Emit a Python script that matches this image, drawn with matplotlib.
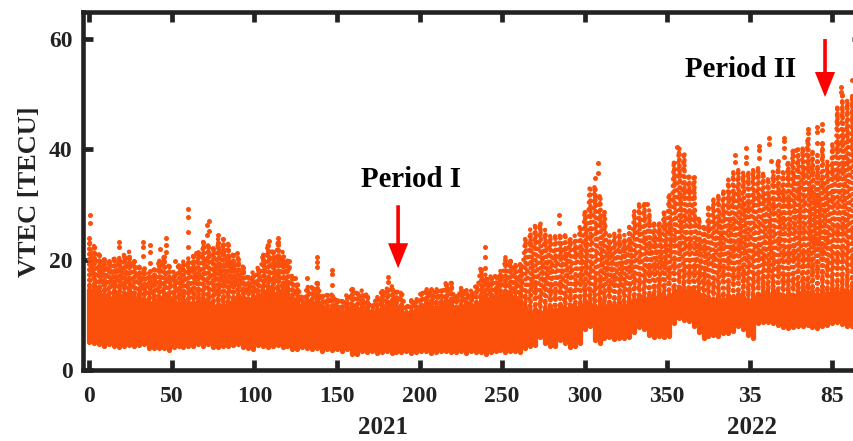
import matplotlib
matplotlib.use("Agg")
import matplotlib.pyplot as plt

plt.rcParams['font.family'] = ['Liberation Serif', 'DejaVu Serif']
plt.rcParams['font.weight'] = 'bold'

# Data arrays, one column every 3 days
days = list(range(0, 468, 3))
vtec_high = [24, 23, 21.5, 20.5, 20, 20.8, 20.5, 21, 21.5, 20, 19.3, 18.5, 17.8, 18.3, 20, 20.8,
             19, 18, 19.5, 20, 20.5, 21.3, 21.5, 23.5, 23, 22.5, 24, 23.8, 23, 21.5, 20.5, 19,
             17.5, 18, 18.7, 21, 23, 22, 23, 21.5, 20, 17.5, 16, 13.5, 15.4, 15.5, 16.3, 14,
             13.8, 14, 13.3, 12.7, 14, 15, 14.5, 14.5, 14, 12.3, 13.5, 14.5, 15, 15.5, 14.8, 14.5,
             12, 12.7, 13, 14.5, 15, 15, 15, 15, 16, 16, 13.6, 15, 15, 14.5, 15.5, 18.7,
             17.5, 17, 17.6, 18, 20.5, 20, 19.4, 19.4, 24, 25.5, 26.6, 26.6, 25.5, 24.5, 24.8, 24.8,
             25, 24, 24.5, 26, 29, 33, 33.5, 32, 29, 25, 25, 25.4, 24.5, 26, 29, 30.5,
             30.5, 29, 27, 27, 29, 32, 38, 40.4, 39.5, 35.6, 35, 28, 26.5, 30, 31, 32,
             32.8, 34.7, 36, 36.6, 36, 36, 36.5, 37, 36, 35, 36, 38, 36, 38, 40, 40,
             40.4, 42, 40, 39, 41, 38, 41, 48, 49.8, 49, 50, 49]
vtec_low = [5.2, 5, 4.8, 4.5, 4.8, 4.4, 4.2, 4.4, 4.6, 4.5, 4.6, 4.7, 4.1, 4, 4.1, 4,
            3.7, 4.3, 4.5, 4.2, 4.4, 4.5, 4.7, 4.5, 4.8, 4.2, 4.3, 4.5, 4.4, 4.6, 4.8, 4.3,
            4, 3.9, 4.6, 4.5, 4.3, 4.5, 4.6, 4.2, 4.4, 3.8, 3.9, 4.2, 4, 3.8, 4, 3.6,
            3.9, 3.7, 3.8, 3.5, 3.9, 2.9, 3, 3.6, 3.3, 3.6, 3.2, 3.4, 3.5, 3.1, 3.4, 3.3,
            3.5, 3.2, 3.4, 3.6, 3.5, 3.2, 3.4, 3.6, 3.5, 3.3, 3.4, 3.5, 3.1, 3.6, 3.4, 3.3,
            3, 3.4, 3.5, 3.7, 3.3, 3.6, 3.5, 3.4, 4, 4.5, 4.6, 6, 5, 4.5, 4.5, 5.5,
            5, 4.2, 4.5, 5, 7.5, 8, 5.5, 5, 5.8, 6, 5.6, 5.9, 5.8, 6, 7, 7.8,
            7.5, 6.5, 6, 6.2, 6, 6.3, 8.5, 9.4, 9.2, 9, 8, 7, 5.8, 6.3, 6.5, 6.3,
            6.8, 6.7, 7.2, 8, 7.5, 6.5, 5.9, 8.5, 8.8, 8.7, 8.5, 8.2, 7.8, 7.6, 7.8, 8,
            8, 8.2, 7.8, 7.6, 8, 8.3, 8.5, 8.7, 8.4, 8.1, 8, 8.2]
# top of the part that reads as solid colour
vtec_core = [14.6, 15.2, 14.3, 13.9, 13.1, 14.4, 13.7, 14.1, 14.5, 13.2, 13.3, 12.8, 12.4, 12.9, 13.2, 13.6,
             13.3, 12.7, 12.1, 12.8, 12.4, 12.2, 12.6, 12.9, 12.3, 11.7, 12.1, 11.8, 12.4, 12.9, 13.6, 13.2,
             12.9, 13.4, 13.8, 14.3, 14.7, 14.1, 14.5, 14.9, 14.4, 13.1, 12.7, 11.3, 12.8, 12.4, 13, 11.6,
             11.2, 11.7, 11.1, 10.7, 11.4, 11.9, 11.3, 12, 11.5, 10.4, 11.2, 11.9, 12.4, 12.1, 11.6, 11.9,
             10.2, 10.7, 10.9, 11.8, 12.3, 12, 11.5, 12.2, 12.7, 12.3, 11.4, 11.9, 12.4, 11.8, 12.1, 13.6,
             13.1, 13.7, 13.2, 13.8, 14.3, 13.9, 13.2, 12.7, 11.3, 10.8, 11.2, 10.6, 11.1, 11.7, 11.2, 11.8,
             11.3, 11.9, 11.4, 12, 12.6, 12.1, 11.5, 12.2, 11.7, 12.3, 11.8, 12.4, 11.9, 12.5, 13, 13.6,
             13.1, 13.7, 13.2, 13.8, 13.3, 13.9, 14.5, 15.1, 14.6, 14.9, 14.3, 13.6, 12.8, 13.3, 12.9, 13.5,
             13, 13.6, 13.2, 13.9, 13.3, 12.7, 13.2, 13.8, 14.3, 13.9, 14.4, 14, 13.6, 14.1, 13.7, 14.2,
             14.5, 14, 14.4, 13.9, 14.6, 14.1, 14.7, 14.2, 14.8, 14.3, 14.9, 14.4]

# Single dots standing clear of the main cloud
spike_days = [0.5, 0.5, 60, 60, 60, 60, 72.4, 71, 71, 72.4, 78, 18, 18, 32.5, 32.5, 32.5,
              37, 37, 37, 37, 43, 46.3, 46.3, 46.3, 52, 64.5, 89.4, 109, 114, 114, 121, 121,
              124.5, 132, 138, 138, 138, 147, 147, 147, 181, 181, 239.6, 239.6, 239.6, 284.5, 284.5,
              308, 308, 306.5, 337.6, 356, 366, 391, 391, 398, 398, 398, 405.6, 405.6, 405.6,
              411.6, 411.6, 420.6, 420.6, 420.6, 420.6, 413, 417, 428, 435, 435, 441, 441, 441,
              444, 444, 444, 455, 455, 456, 462]
spike_vals = [28.1, 26.6, 29.2, 27.8, 25, 22.3, 27, 26.4, 24.5, 25.2, 24.5, 23.2, 22.3, 23.2, 22.3, 20.8,
              22.7, 21.5, 19.5, 18, 22, 23.9, 22.7, 21.4, 19.8, 21.2, 21.2, 23.4, 24, 23.2, 19.8, 18.8,
              16.7, 16.8, 20.5, 19.6, 18.7, 18.2, 17.4, 15.4, 16.9, 16, 22.3, 20.5, 18.5, 28.1, 26.6,
              37.5, 35.7, 34.8, 30.2, 40.4, 35, 39, 37.7, 40.2, 38.6, 37.5, 40.6, 39.9, 38.4,
              42, 41, 42, 41.5, 40.2, 38.6, 38, 38, 39.9, 43.8, 42.9, 44, 43.1, 41.1,
              44.7, 43.5, 41.1, 51.3, 50.4, 49.8, 52.5]

xtick_pos = [0, 50, 100, 150, 200, 250, 300, 350, 400, 450]
xtick_labels = ["0", "50", "100", "150", "200", "250", "300", "350", "35", "85"]
ytick_pos = [0, 20, 40, 60]

color = '#fa500c'
dark = '#222222'

fig = plt.figure(figsize=(8.54, 4.41), dpi=100)
ax = fig.add_axes([83.5 / 854, (441 - 370.4) / 441, 778.5 / 854, 358.1 / 441])

# Plot data: solid part, dotted columns, zigzag dotted lines between columns, stray dots
phases = [0, 0.6, 1.1, 0.3, 0.9, 0.15, 1.3]
# 2021 columns are packed tighter than the busy 2022 part
styles = [(phases[i % 7], (0.01, 1.0 if days[i] < 262 else 1.2)) for i in range(len(days))]
widths = [3.7 if d < 262 else 3.3 for d in days]
ax.vlines(days, vtec_low, vtec_core, color=color, lw=3.8, capstyle='round')
ax.vlines(days, vtec_core, vtec_high, color=color, lw=widths, capstyle='round', linestyles=styles)
zig_a = [vtec_high[i] if i % 2 == 0 else vtec_core[i] for i in range(len(days))]
zig_b = [vtec_core[i] if i % 2 == 0 else vtec_high[i] for i in range(len(days))]
for zig, off in [(zig_a, 0.4), (zig_b, 1.0)]:
    ax.plot(days, zig, color=color, lw=3.3, dash_capstyle='round', linestyle=(off, (0.01, 1.5)))
ax.scatter(spike_days, spike_vals, s=13, color=color, linewidths=0, zorder=3)

ax.set_xlim(-3.57, 468)
ax.set_ylim(0, 64.84)
ax.set_xticks(xtick_pos)
ax.set_xticklabels(xtick_labels)
ax.set_yticks(ytick_pos)
ax.tick_params(axis='both', direction='in', length=7.2, width=3.4, color=dark,
               labelcolor=dark, labelsize=17, top=True, right=True, zorder=6)
ax.tick_params(axis='x', pad=11)
ax.tick_params(axis='y', pad=8)
for side in ax.spines.values():
    side.set_linewidth(3.3)
    side.set_color(dark)

ax.set_ylabel("VTEC [TECU]", fontsize=19, fontweight='bold', color=dark)
ax.yaxis.set_label_coords((41 - 83.5) / 778.5, 0.5)

# Year labels under the day numbers
fig.text(383 / 854, 1 - 428 / 441, "2021", fontsize=18, color=dark, ha='center', va='center')
fig.text(752 / 854, 1 - 427 / 441, "2022", fontsize=18, color=dark, ha='center', va='center')

# Period notes and arrows
ax.text(195, 34.5, "Period I", fontsize=20.7, color='black', ha='center', va='center')
ax.text(394.5, 54.5, "Period II", fontsize=20.7, color='black', ha='center', va='center')
arrow = dict(facecolor='#ff0000', edgecolor='#ff0000', width=2.6, headwidth=14.5, headlength=18, shrink=0, lw=0)
ax.annotate("", xy=(187, 18.5), xytext=(187, 29.9), arrowprops=arrow, zorder=5)
ax.annotate("", xy=(445.6, 49.5), xytext=(445.6, 60), arrowprops=arrow, zorder=5)

plt.savefig("out.png", dpi=100)
